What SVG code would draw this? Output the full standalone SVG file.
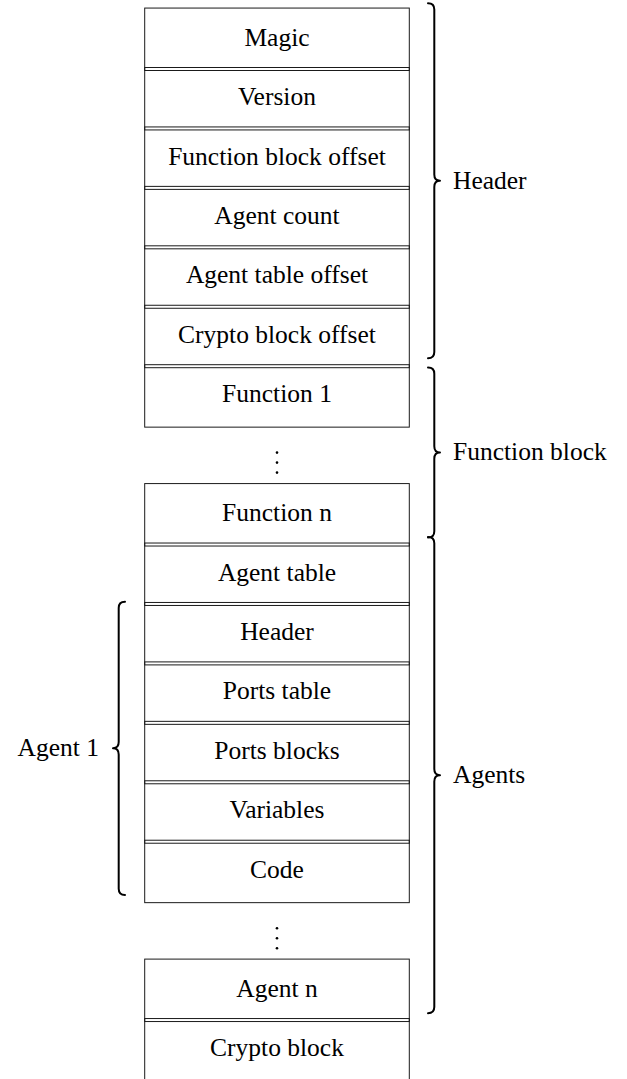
<svg xmlns="http://www.w3.org/2000/svg" width="627" height="1079" viewBox="0 0 627 1079">
<style>
.box{fill:none;stroke:#1a1a1a;stroke-width:1}
text{font-family:'Liberation Serif','Times New Roman',Times,'DejaVu Serif',serif;font-size:25.5px;fill:#000}
.lbl{text-anchor:middle}
.brace{fill:none;stroke:#000;stroke-width:2;stroke-linecap:round;stroke-linejoin:round}
.dot{fill:#000}
</style>
<rect x="0" y="0" width="627" height="1079" fill="#fff"/>
<g id="magic"><rect class="box" x="144.7" y="8.06" width="264.6" height="62.44"/><text class="lbl" x="277" y="45.5" font-family="Liberation Serif, serif">Magic</text></g>
<g id="version"><rect class="box" x="144.7" y="67.5" width="264.6" height="62.44"/><text class="lbl" x="277" y="105">Version</text></g>
<g id="function-block-offset"><rect class="box" x="144.7" y="126.94" width="264.6" height="62.44"/><text class="lbl" x="277" y="164.5">Function block offset</text></g>
<g id="agent-count"><rect class="box" x="144.7" y="186.38" width="264.6" height="62.44"/><text class="lbl" x="277" y="223.9">Agent count</text></g>
<g id="agent-table-offset"><rect class="box" x="144.7" y="245.82" width="264.6" height="62.44"/><text class="lbl" x="277" y="283.3">Agent table offset</text></g>
<g id="crypto-block-offset"><rect class="box" x="144.7" y="305.26" width="264.6" height="62.44"/><text class="lbl" x="277" y="342.8">Crypto block offset</text></g>
<g id="function-1"><rect class="box" x="144.7" y="364.7" width="264.6" height="62.44"/><text class="lbl" x="277" y="402.2">Function 1</text></g>
<g id="function-dots"><circle class="dot" cx="277" cy="452.6" r="1.3"/><circle class="dot" cx="277" cy="462.6" r="1.3"/><circle class="dot" cx="277" cy="472.6" r="1.3"/></g>
<g id="function-n"><rect class="box" x="144.7" y="483.58" width="264.6" height="62.44"/><text class="lbl" x="277" y="521.1">Function n</text></g>
<g id="agent-table"><rect class="box" x="144.7" y="543.02" width="264.6" height="62.44"/><text class="lbl" x="277" y="580.5">Agent table</text></g>
<g id="agent-header"><rect class="box" x="144.7" y="602.46" width="264.6" height="62.44"/><text class="lbl" x="277" y="640">Header</text></g>
<g id="ports-table"><rect class="box" x="144.7" y="661.9" width="264.6" height="62.44"/><text class="lbl" x="277" y="699.4">Ports table</text></g>
<g id="ports-blocks"><rect class="box" x="144.7" y="721.34" width="264.6" height="62.44"/><text class="lbl" x="277" y="758.8">Ports blocks</text></g>
<g id="variables"><rect class="box" x="144.7" y="780.78" width="264.6" height="62.44"/><text class="lbl" x="277" y="818.3">Variables</text></g>
<g id="code"><rect class="box" x="144.7" y="840.22" width="264.6" height="62.44"/><text class="lbl" x="277" y="877.7">Code</text></g>
<g id="agent-dots"><circle class="dot" cx="277" cy="928.2" r="1.3"/><circle class="dot" cx="277" cy="938.2" r="1.3"/><circle class="dot" cx="277" cy="948.2" r="1.3"/></g>
<g id="agent-n"><rect class="box" x="144.7" y="959.1" width="264.6" height="62.44"/><text class="lbl" x="277" y="996.6">Agent n</text></g>
<g id="crypto-block"><rect class="box" x="144.7" y="1018.54" width="264.6" height="62.44"/><text class="lbl" x="277" y="1056">Crypto block</text></g>
<g id="connectors">
<path class="brace" d="M428 3.3 Q434.3 3.3 434.3 9.5 L434.3 174.6 Q434.3 180.8 440 180.8 Q434.3 180.8 434.3 187 L434.3 352 Q434.3 358.3 428 358.3"/>
<path class="brace" d="M428 367.5 Q434.3 367.5 434.3 373.7 L434.3 446.3 Q434.3 452.5 440 452.5 Q434.3 452.5 434.3 458.7 L434.3 531.3 Q434.3 537.5 428 537.5"/>
<path class="brace" d="M428 537 Q434.3 537 434.3 543.2 L434.3 769 Q434.3 775.2 440 775.2 Q434.3 775.2 434.3 781.4 L434.3 1007.1 Q434.3 1013.3 428 1013.3"/>
<path class="brace" d="M125 601.7 Q118.7 601.7 118.7 607.9 L118.7 742.1 Q118.7 748.3 113 748.3 Q118.7 748.3 118.7 754.5 L118.7 888.8 Q118.7 895 125 895"/>
</g>
<g id="labels">
<text x="453" y="189">Header</text>
<text x="453" y="460">Function block</text>
<text x="453" y="783">Agents</text>
<text x="99" y="756" text-anchor="end">Agent 1</text>
</g>
</svg>
